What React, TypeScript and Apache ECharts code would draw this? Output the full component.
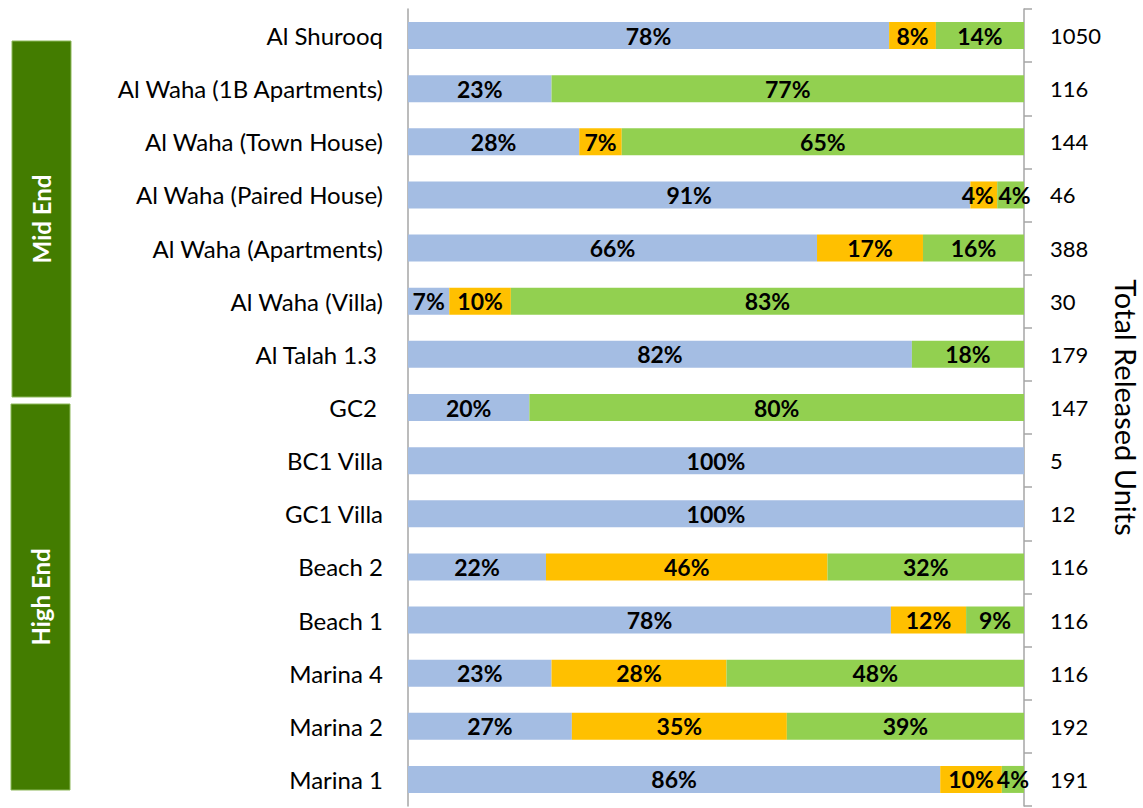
import React, { useEffect, useRef } from "react";
import * as echarts from "echarts";

const categories = [
  "Al Shurooq",
  "Al Waha (1B Apartments)",
  "Al Waha (Town House)",
  "Al Waha (Paired House)",
  "Al Waha (Apartments)",
  "Al Waha (Villa)",
  "Al Talah 1.3 ",
  "GC2 ",
  "BC1 Villa",
  "GC1 Villa",
  "Beach 2",
  "Beach 1",
  "Marina 4",
  "Marina 2",
  "Marina 1",
];
const totals = ["1050", "116", "144", "46", "388", "30", "179", "147", "5", "12", "116", "116", "116", "192", "191"];
const bluePct = [78.1, 23.3, 27.8, 91.3, 66.4, 6.7, 81.8, 19.7, 100, 100, 22.4, 78.4, 23.3, 26.6, 86.4];
const orangePct = [7.6, 0, 6.9, 4.35, 17.2, 10, 0, 0, 0, 0, 45.7, 12.2, 28.4, 34.9, 10.0];
const greenPct = [14.3, 76.7, 65.3, 4.35, 16.4, 83.3, 18.2, 80.3, 0, 0, 31.9, 9.4, 48.3, 38.5, 3.6];
const groups = [
  { name: "Mid End", x: 12, y: 41, w: 59, h: 356 },
  { name: "High End", x: 11, y: 404, w: 59, h: 386 },
];
// label nudges for crowded narrow segments: [seriesIndex, dataIndex, dx]
const labelNudges: [number, number, number][] = [
  [1, 3, -6],
  [2, 3, 4],
];

const FONT = "Lato, 'Open Sans', sans-serif";

export default function App() {
  const ref = useRef<HTMLDivElement>(null);
  useEffect(() => {
    if (!ref.current) return;
    const chart = echarts.init(ref.current, undefined, { renderer: "svg" });
    const label = {
      show: true,
      position: "inside",
      color: "#000",
      fontWeight: "bold",
      fontSize: 23,
      fontFamily: FONT,
      formatter: (p: any) => (p.value > 0 ? Math.round(p.value) + "%" : ""),
    };
    const mk = (si: number, name: string, data: number[], color: string) => ({
      name,
      type: "bar",
      stack: "s",
      data: data.map((v, i) => {
        const n = labelNudges.find((d) => d[0] === si && d[1] === i);
        return n ? { value: v, label: { offset: [n[2], 0] } } : v;
      }),
      barWidth: 27,
      itemStyle: { color },
      label,
    });
    chart.setOption({
      animation: false,
      grid: { left: 408, right: 119, top: 9, bottom: 2, outerBoundsMode: "none", containLabel: false },
      xAxis: { type: "value", min: 0, max: 100, show: false },
      yAxis: [
        {
          type: "category",
          data: categories,
          inverse: true,
          position: "left",
          axisLine: { show: true, lineStyle: { color: "#A6A6A6", width: 1.5 } },
          axisTick: { show: false },
          axisLabel: { color: "#000", fontSize: 24, fontFamily: FONT, margin: 25 },
        },
        {
          type: "category",
          data: totals,
          inverse: true,
          position: "right",
          axisLine: { show: true, lineStyle: { color: "#A6A6A6", width: 1.5 } },
          axisTick: { show: true, length: 8, lineStyle: { color: "#A6A6A6", width: 1.5 } },
          axisLabel: { color: "#000", fontSize: 22, fontFamily: FONT, margin: 26, align: "left" },
          name: "Total Released Units",
          nameLocation: "middle",
          nameRotate: -90,
          nameGap: 77,
          nameTextStyle: { color: "#000", fontSize: 29, fontFamily: FONT },
        },
      ],
      series: [
        mk(0, "Blue", bluePct, "#A4BDE3"),
        mk(1, "Orange", orangePct, "#FFC000"),
        mk(2, "Green", greenPct, "#92D050"),
      ],
      graphic: groups.flatMap((g) => [
        {
          type: "rect",
          shape: { x: g.x, y: g.y, width: g.w, height: g.h },
          style: { fill: "#437C00", stroke: "#8DB85A", lineWidth: 1 },
        },
        {
          type: "text",
          x: g.x + g.w / 2,
          y: g.y + g.h / 2,
          rotation: Math.PI / 2,
          style: {
            text: g.name,
            fill: "#fff",
            fontSize: 24,
            fontWeight: "bold",
            fontFamily: FONT,
            align: "center",
            verticalAlign: "middle",
          },
        },
      ]),
    });
    return () => chart.dispose();
  }, []);
  return (
    <div
      ref={ref}
      style={{ position: "absolute", left: 0, top: 0, width: 1143, height: 808, background: "#fff" }}
    />
  );
}
